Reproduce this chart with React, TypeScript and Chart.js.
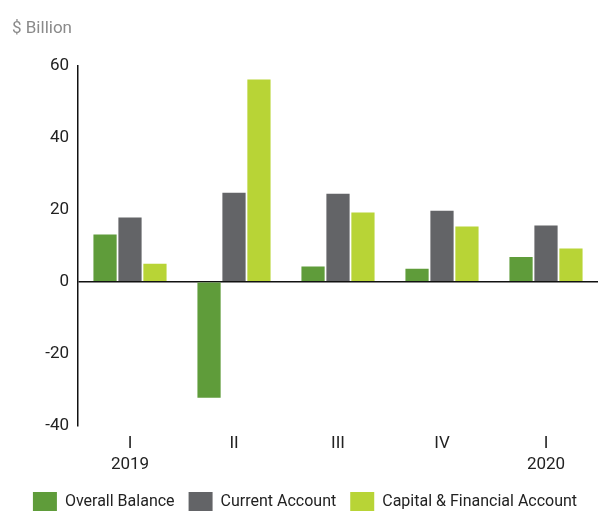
import React, { useEffect, useRef } from "react";
import { Chart, registerables } from "chart.js";

Chart.register(...registerables);

const categories: (string | string[])[] = [["I", "2019"], "II", "III", "IV", ["I", "2020"]];
const overallBalance = [13.1, -32.2, 4.2, 3.6, 6.9];
const currentAccount = [17.8, 24.7, 24.4, 19.7, 15.6];
const capitalFinancial = [5.0, 56.1, 19.2, 15.3, 9.2];
const yTicks = [-40, -20, 0, 20, 40, 60];

const FONT = "Roboto, 'DejaVu Sans', sans-serif";

export default function App() {
  const ref = useRef<HTMLCanvasElement>(null);
  useEffect(() => {
    if (!ref.current) return;
    const chart = new Chart(ref.current, {
      type: "bar",
      data: {
        labels: categories,
        datasets: [
          { label: "Overall Balance", data: overallBalance, backgroundColor: "#5f9c3a" },
          { label: "Current Account", data: currentAccount, backgroundColor: "#636467" },
          { label: "Capital & Financial Account", data: capitalFinancial, backgroundColor: "#b8d436" },
        ],
      },
      options: {
        animation: false,
        responsive: false,
        maintainAspectRatio: false,
        datasets: { bar: { barPercentage: 0.93, categoryPercentage: 0.72 } },
        layout: { padding: { left: 12, right: 0, top: 15, bottom: -10 } },
        plugins: {
          title: {
            display: true,
            text: "$ Billion",
            align: "start",
            color: "#8a8a8a",
            font: { family: FONT, size: 17, weight: "normal" },
            padding: { top: 4, bottom: 26 },
          },
          legend: {
            position: "bottom",
            labels: {
              boxWidth: 24,
              boxHeight: 19,
              padding: 14,
              color: "#222",
              font: { family: FONT, size: 16 },
            },
          },
          tooltip: { enabled: false },
        },
        scales: {
          x: {
            grid: { display: false, drawTicks: false },
            border: { display: false },
            ticks: { color: "#222", font: { family: FONT, size: 17 }, padding: 8 },
            afterFit: (s: any) => { s.height = 52; },
          },
          y: {
            min: -40,
            max: 60,
            afterBuildTicks: (s: any) => { s.ticks = yTicks.map((v) => ({ value: v })); },
            grid: {
              drawTicks: false,
              color: (ctx: any) => (ctx.tick && ctx.tick.value === 0 ? "#111" : "transparent"),
              lineWidth: 1.5,
            },
            border: { display: true, color: "#111", width: 1.5 },
            ticks: { color: "#222", font: { family: FONT, size: 17 }, padding: 9 },
            afterFit: (s: any) => { s.width = 66; },
          },
        },
      },
    });
    return () => chart.destroy();
  }, []);
  return (
    <div style={{ position: "absolute", left: 0, top: 0, width: 598, height: 511 }}>
      <canvas ref={ref} width={598} height={511} />
    </div>
  );
}
